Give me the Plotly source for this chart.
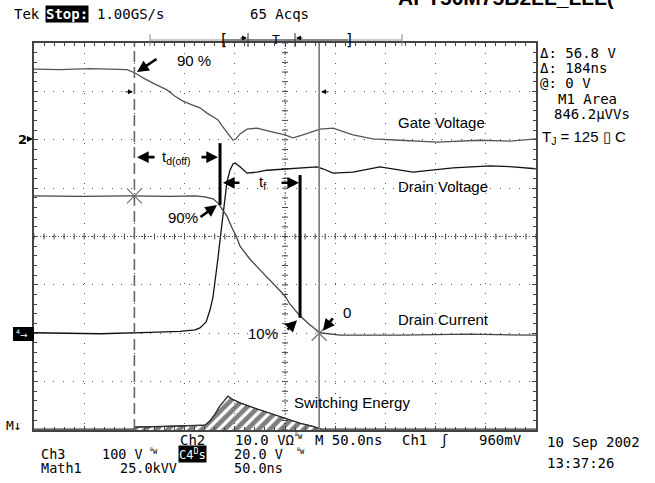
import plotly.graph_objects as go

# ---------------- data (time in ns, amplitude in screen divisions) ----------------
gate_t = [0, 25.9, 55.8, 92.6, 100.6, 108.6, 120.5, 132.5, 140.4, 148.4, 157.4, 165.3, 172.3,
          178.3, 183.3, 187.2, 193.2, 198.2, 201.2, 205.2, 212.1, 222.1, 238.0, 250.0, 257.9,
          267.9, 284.9, 297.8, 317.7, 337.6, 364.5, 401.4, 444.2, 474.1, 500]
gate_v = [7.46, 7.45, 7.47, 7.45, 7.38, 7.28, 7.15, 7.03, 6.90, 6.80, 6.72, 6.66, 6.55,
          6.47, 6.41, 6.29, 6.12, 5.99, 6.02, 6.12, 6.22, 6.24, 6.16, 6.10, 6.04,
          6.10, 6.22, 6.24, 6.10, 6.02, 5.99, 5.95, 5.99, 5.97, 6.02]

vd_t = [0, 65.7, 115.5, 145.4, 160.4, 165.3, 171.3, 175.3, 178.3, 181.3, 183.3, 185.3, 187.2,
        189.2, 192.2, 195.2, 198.2, 200.2, 205.2, 212.1, 222.1, 232.1, 250.0, 264.9, 281.9,
        287.8, 297.8, 317.7, 344.6, 377.5, 417.3, 454.2, 477.1, 500]
vd_v = [2.01, 1.99, 2.02, 2.04, 2.07, 2.11, 2.23, 2.48, 2.75, 3.20, 3.56, 3.93, 4.30,
        4.61, 5.13, 5.37, 5.50, 5.52, 5.44, 5.31, 5.33, 5.37, 5.40, 5.42, 5.44,
        5.40, 5.31, 5.33, 5.44, 5.33, 5.42, 5.46, 5.44, 5.40]

id_t = [0, 45.8, 95.6, 135.5, 160.4, 170.3, 178.3, 183.3, 187.2, 192.2, 197.2, 202.2, 205.2,
        215.1, 225.1, 235.1, 242.0, 250.0, 255.0, 264.9, 274.9, 284.9, 304.8, 364.5, 434.3, 500]
id_v = [4.84, 4.83, 4.84, 4.83, 4.84, 4.82, 4.78, 4.69, 4.57, 4.42, 4.18, 3.97, 3.80,
        3.53, 3.31, 3.10, 2.96, 2.77, 2.60, 2.36, 2.17, 2.01, 1.96, 1.96, 1.98, 1.96]

e_t = [0, 99.6, 100.6, 125.5, 155.4, 170.3, 175.3, 180.3, 185.3, 190.2, 193.2, 197.2, 205.2,
       220.1, 235.1, 250.0, 264.9, 276.9, 284.9, 285.8, 500]
e_v = [0.02, 0.02, 0.06, 0.07, 0.08, 0.10, 0.19, 0.33, 0.50, 0.64, 0.70, 0.64, 0.56,
       0.45, 0.35, 0.25, 0.14, 0.08, 0.04, 0.02, 0.02]

cursor_t = [100, 284]
cursor_y = [4.84, 2.0]

# ---------------- layout helpers ----------------
W, H = 655, 483
L, R, T, B = 34, 119, 43, 53
PW, PH = W - L - R, H - T - B


def px(x):
    return (x - L) / PW


def py(y):
    return (H - B - y) / PH


MONO = "DejaVu Sans Mono"
SANS = "Liberation Sans"


def txt(x, y, s, size=14, family=MONO, anchor="left", color="black", bg=None, yanchor="middle"):
    d = dict(xref="paper", yref="paper", x=px(x), y=py(y), text=s, showarrow=False,
             xanchor=anchor, yanchor=yanchor, font=dict(family=family, size=size, color=color))
    if bg:
        d["bgcolor"] = bg
        d["borderpad"] = 0
    return d


def dtxt(x, y, s, size=15, anchor="center"):
    return dict(xref="x", yref="y", x=x, y=y, text=s, showarrow=False, xanchor=anchor,
                yanchor="middle", font=dict(family=SANS, size=size, color="black"))


def arrow(x, y, ax, ay, width=2.6, size=0.9, color="black", ref="y"):
    return dict(xref="x", yref=ref, x=x, y=y, ax=ax, ay=ay, text="", showarrow=True,
                arrowhead=2, arrowwidth=width, arrowsize=size, arrowcolor=color, standoff=0)


fig = go.Figure()

# center crosshair tick marks
cx, cy = [], []
for i in range(0, 51):
    t = i * 10
    cx += [t, t, None]
    cy += [3.94, 4.06, None]
for i in range(0, 41):
    v = i * 0.2
    cx += [247, 253, None]
    cy += [v, v, None]
fig.add_trace(go.Scatter(x=cx, y=cy, mode="lines", line=dict(color="#444", width=1),
                         hoverinfo="skip", showlegend=False))

# switching energy (hatched)
fig.add_trace(go.Scatter(x=e_t[1:20], y=e_v[1:20], mode="lines", fill="tozeroy",
                         fillpattern=dict(shape="/", fgcolor="black", bgcolor="rgba(0,0,0,0)",
                                          size=8, solidity=0.6),
                         fillcolor="rgba(0,0,0,0)",
                         line=dict(color="black", width=1), showlegend=False))
fig.add_trace(go.Scatter(x=e_t, y=e_v, mode="lines", line=dict(color="#333", width=1.2),
                         showlegend=False))

fig.add_trace(go.Scatter(x=gate_t, y=gate_v, mode="lines", line=dict(color="#555", width=1.3),
                         showlegend=False))
fig.add_trace(go.Scatter(x=vd_t, y=vd_v, mode="lines", line=dict(color="#111", width=1.3),
                         showlegend=False))
fig.add_trace(go.Scatter(x=id_t, y=id_v, mode="lines", line=dict(color="#444", width=1.3),
                         showlegend=False))
fig.add_trace(go.Scatter(x=cursor_t, y=cursor_y, mode="markers",
                         marker=dict(symbol="x-thin", size=15, line=dict(color="#777", width=1.3)),
                         showlegend=False))

shapes = [
    # center lines
    dict(type="line", xref="x", yref="y", x0=0, x1=500, y0=4, y1=4,
         line=dict(color="#444", width=1, dash="1px,2px")),
    dict(type="line", xref="x", yref="y", x0=250, x1=250, y0=0, y1=8,
         line=dict(color="#444", width=1, dash="1px,2px")),
    # cursors
    dict(type="line", xref="x", yref="y", x0=cursor_t[0], x1=cursor_t[0], y0=0, y1=8,
         line=dict(color="#666", width=1.6, dash="11px,5px")),
    dict(type="line", xref="x", yref="y", x0=cursor_t[1], x1=cursor_t[1], y0=0, y1=8,
         line=dict(color="#777", width=1.6)),
    # thick markers
    dict(type="line", xref="x", yref="y", x0=185.3, x1=185.3, y0=4.65, y1=5.93,
         line=dict(color="black", width=3)),
    dict(type="line", xref="x", yref="y", x0=265, x1=265, y0=2.32, y1=5.27,
         line=dict(color="black", width=3)),
    # trigger bar
    dict(type="line", xref="paper", yref="paper", x0=px(150), x1=px(402), y0=py(40), y1=py(40),
         line=dict(color="#999", width=1)),
    dict(type="line", xref="paper", yref="paper", x0=px(224), x1=px(348), y0=py(40), y1=py(40),
         line=dict(color="#444", width=1)),
    dict(type="line", xref="paper", yref="paper", x0=px(150), x1=px(150), y0=py(34), y1=py(46),
         line=dict(color="#888", width=1)),
    dict(type="line", xref="paper", yref="paper", x0=px(402), x1=px(402), y0=py(34), y1=py(46),
         line=dict(color="#888", width=1)),
    dict(type="line", xref="paper", yref="paper", x0=px(248), x1=px(248), y0=py(33), y1=py(47),
         line=dict(color="#333", width=1)),
    dict(type="line", xref="paper", yref="paper", x0=px(295), x1=px(295), y0=py(33), y1=py(47),
         line=dict(color="#333", width=1)),
    # ch4 marker box
    dict(type="rect", xref="paper", yref="paper", x0=px(13), x1=px(34), y0=py(341), y1=py(327),
         fillcolor="black", line=dict(width=0)),
]

ann = [
    # title (cropped)
    dict(xref="paper", yref="paper", x=px(396), y=py(11), text="<b>APT50M75B2LL_LLL(</b>",
         showarrow=False, xanchor="left", yanchor="bottom",
         font=dict(family=SANS, size=21, color="black")),
    txt(12, 14, "Tek"),
    txt(45, 14, "<b>Stop:</b>", color="white", bg="black"),
    txt(95, 14, "1.00GS/s"),
    txt(248, 14, "65 Acqs"),
    txt(223, 40, "[", size=15, anchor="center"),
    txt(349, 40, "]", size=15, anchor="center"),
    txt(276, 40, "T", size=13, anchor="center"),
    dict(xref="paper", yref="paper", x=px(247), y=py(38), ax=-8, ay=0, text="", showarrow=True,
         arrowhead=2, arrowwidth=1, arrowsize=1, arrowcolor="black", standoff=0),
    dict(xref="paper", yref="paper", x=px(296), y=py(38), ax=8, ay=0, text="", showarrow=True,
         arrowhead=2, arrowwidth=1, arrowsize=1, arrowcolor="black", standoff=0),
    # right readouts
    txt(538, 53, "Δ: 56.8 V"),
    txt(538, 68, "Δ: 184ns"),
    txt(538, 83, "@: 0 V"),
    txt(556, 99, "M1 Area"),
    txt(552, 114, "846.2µVVs"),
    txt(540, 137, "T<sub>J</sub> = 125 \u25af C", size=15, family=SANS),
    # bottom readouts
    txt(178, 440, "Ch2"),
    txt(233, 440, "10.0 VΩ"),
    txt(293, 436, "<sup>B</sup>W", size=7),
    txt(313, 440, "M 50.0ns"),
    txt(400, 440, "Ch1"),
    txt(438, 440, "ʃ", size=14),
    txt(477, 440, "960mV"),
    txt(545, 442, "10 Sep 2002"),
    txt(545, 463, "13:37:26"),
    txt(39, 454, "Ch3", size=13.5),
    txt(100, 454, "100 V", size=13.5),
    txt(148, 451, "<sup>B</sup>W", size=7),
    txt(178, 454, "C4<sup>D</sup>s", color="white", bg="black", size=12),
    txt(232, 454, "20.0 V", size=13.5),
    txt(295, 451, "<sup>B</sup>W", size=7),
    txt(39, 468, "Math1", size=13.5),
    txt(118, 468, "25.0kVV", size=13.5),
    txt(232, 468, "50.0ns", size=13.5),
    # left markers
    txt(16, 139, "<b>2</b>", size=13, family="DejaVu Sans"),
    dict(xref="paper", yref="paper", x=px(33), y=py(139), ax=-8, ay=0, text="", showarrow=True,
         arrowhead=2, arrowwidth=1.2, arrowsize=1, arrowcolor="black", standoff=0),
    txt(14, 334, "<sup>4</sup>→", size=9, color="white", family="DejaVu Sans"),
    txt(4, 425, "M↓", size=13),
    # trace labels
    dtxt(405.4, 6.35, "Gate Voltage"),
    dtxt(407.4, 5.04, "Drain Voltage"),
    dtxt(407.4, 2.29, "Drain Current"),
    dtxt(257, 0.56, "Switching Energy", anchor="left"),
    # timing annotations
    dtxt(140.4, 7.63, "90 %", anchor="left"),
    arrow(102.6, 7.40, 21, -14),
    arrow(102.6, 5.64, 19, 0),
    arrow(183.3, 5.64, -18, 0),
    dtxt(142.4, 5.64, "t<sub>d(off)</sub>"),
    arrow(188.2, 5.11, 18, 0),
    arrow(264.0, 5.11, -19, 0),
    dtxt(227.1, 5.11, "t<sub>f</sub>"),
    dtxt(148.4, 4.40, "90%"),
    arrow(182.3, 4.65, -18, 13),
    dtxt(228.1, 2.0, "10%"),
    arrow(262.0, 2.27, -11, 11),
    dtxt(305.8, 2.42, "0", anchor="left"),
    arrow(287.8, 2.05, 11, -14),
    arrow(98.6, 6.99, -9, 0, width=1, size=1),
    arrow(285.9, 6.99, 9, 0, width=1, size=1),
]

fig.update_layout(
    width=W, height=H, margin=dict(l=L, r=R, t=T, b=B, pad=0),
    paper_bgcolor="white", plot_bgcolor="white",
    shapes=shapes, annotations=ann, showlegend=False,
    xaxis=dict(range=[0, 500], dtick=50, tick0=0, showticklabels=False, ticks="inside",
               ticklen=4, tickcolor="#444", showline=True, linecolor="#444", linewidth=2,
               mirror="ticks", showgrid=True, gridcolor="#555", gridwidth=1,
               griddash="1px,9px", zeroline=False,
               minor=dict(dtick=10, ticks="inside", ticklen=3, tickcolor="#444", showgrid=False)),
    yaxis=dict(range=[0, 8], dtick=1, tick0=0, showticklabels=False, ticks="inside",
               ticklen=4, tickcolor="#444", showline=True, linecolor="#444", linewidth=2,
               mirror="ticks", showgrid=True, gridcolor="#555", gridwidth=1,
               griddash="1px,8.7px", zeroline=False,
               minor=dict(dtick=0.2, ticks="inside", ticklen=3, tickcolor="#444", showgrid=False)),
)

fig.write_html("out.html", config={"displayModeBar": False},
               post_script="document.body.style.margin='0';document.body.style.overflow='hidden';")
